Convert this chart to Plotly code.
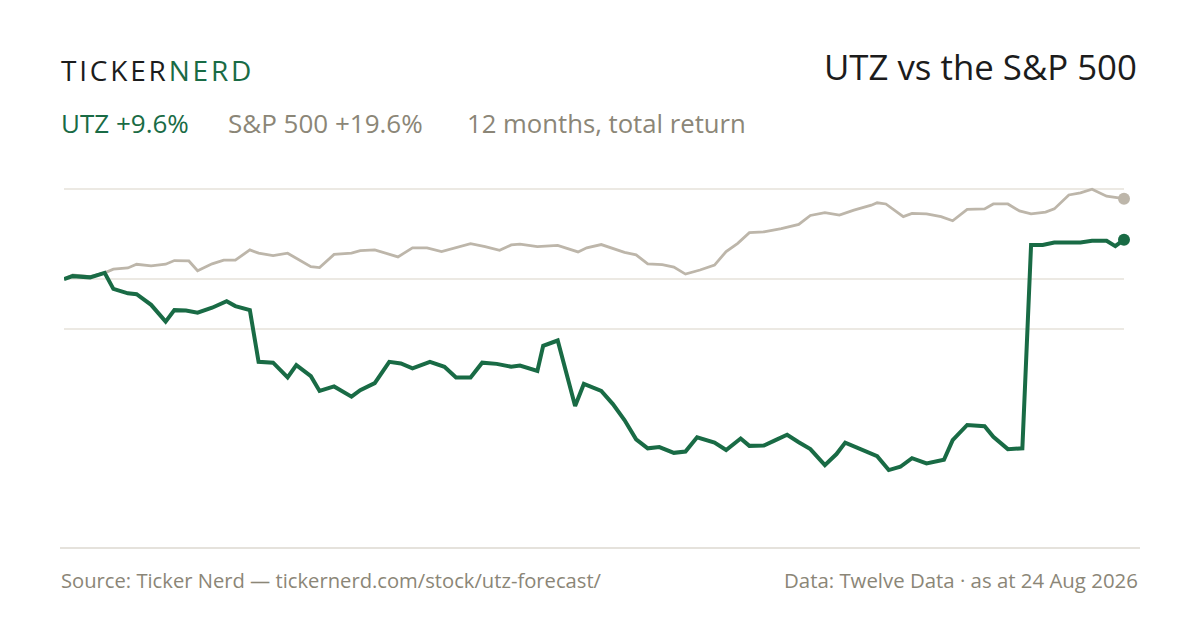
import plotly.graph_objects as go
import pandas as pd

START = "2025-08-24"

# UTZ total return, % (day offset from start, value)
utz_days = [0, 3, 9, 14, 17, 22, 25, 30, 35, 38, 42, 46, 51, 56, 59, 64, 67, 72, 77, 80,
            85, 88, 93, 99, 102, 107, 112, 116, 120, 126, 131, 135, 140, 144, 149, 154, 157,
            163, 165, 170, 176, 179, 185, 189, 193, 197, 201, 205, 210, 214, 218, 224, 228,
            233, 236, 241, 245, 249, 253, 257, 262, 266, 269, 280, 284, 288, 292, 297, 303,
            306, 311, 317, 320, 325, 330, 333, 337, 341, 350, 354, 359, 362, 365]
utz_vals = [0.0, 0.7, 0.4, 1.5, -2.4, -3.5, -3.7, -6.3, -10.4, -7.6, -7.7, -8.2, -7.0, -5.4,
            -6.6, -7.6, -20.2, -20.4, -24.0, -21.0, -23.7, -27.3, -26.2, -28.7, -27.1, -25.4,
            -20.2, -20.6, -21.8, -20.2, -21.4, -24.0, -24.0, -20.4, -20.7, -21.4, -21.1, -22.4,
            -16.3, -15.0, -31.0, -25.6, -27.3, -30.5, -34.4, -39.1, -41.3, -41.0, -42.4, -42.1,
            -38.6, -39.9, -41.7, -38.9, -40.7, -40.6, -39.3, -38.0, -39.8, -41.5, -45.4, -42.7,
            -39.9, -43.2, -46.6, -45.8, -43.7, -45.0, -44.1, -39.3, -35.6, -35.9, -38.5, -41.5,
            -41.3, 8.3, 8.3, 8.9, 8.9, 9.3, 9.3, 8.0, 9.6]

# S&P 500 total return, %
spx_days = [0, 3, 9, 14, 17, 22, 25, 30, 35, 38, 43, 46, 51, 55, 59, 64, 67, 72, 77, 81,
            85, 88, 93, 99, 102, 107, 115, 120, 125, 130, 135, 140, 145, 150, 154, 157, 163,
            170, 177, 180, 185, 189, 193, 197, 201, 206, 210, 214, 219, 224, 228, 232, 236,
            241, 247, 253, 257, 262, 267, 272, 278, 280, 283, 289, 292, 297, 302, 306, 311,
            317, 320, 325, 329, 333, 338, 341, 346, 350, 354, 359, 365]
spx_vals = [0.0, 1.0, 0.6, 1.5, 2.4, 2.7, 3.6, 3.2, 3.6, 4.5, 4.4, 2.0, 3.7, 4.6, 4.6, 7.1,
            6.3, 5.7, 6.3, 4.6, 3.0, 2.8, 6.0, 6.3, 6.9, 7.1, 5.4, 7.6, 7.6, 6.7, 7.7, 8.6,
            7.9, 7.0, 8.3, 8.5, 7.9, 8.2, 6.6, 7.6, 8.4, 7.5, 6.5, 5.9, 3.7, 3.5, 2.9, 1.2,
            2.2, 3.4, 6.7, 8.7, 11.3, 11.5, 12.3, 13.3, 15.5, 16.2, 15.6, 16.8, 18.0, 18.6,
            18.3, 15.2, 16.0, 15.9, 15.2, 14.2, 17.0, 17.1, 18.3, 18.3, 16.6, 15.9, 16.3,
            17.1, 20.5, 21.0, 21.9, 20.2, 19.6]

grid_vals = [21.95, 0, -12.2]

GREEN = "#196B45"
SPX = "#BDB6AA"
GREY = "#8B8677"
DARK = "#1C1C1C"
FONT = "Open Sans"

start = pd.Timestamp(START)
utz_x = [start + pd.Timedelta(days=d) for d in utz_days]
spx_x = [start + pd.Timedelta(days=d) for d in spx_days]

fig = go.Figure()
fig.add_trace(go.Scatter(x=spx_x, y=spx_vals, mode="lines", cliponaxis=False,
                         line=dict(color=SPX, width=2.8), hoverinfo="skip"))
fig.add_trace(go.Scatter(x=utz_x, y=utz_vals, mode="lines", cliponaxis=False,
                         line=dict(color=GREEN, width=4), hoverinfo="skip"))
fig.add_trace(go.Scatter(x=[spx_x[-1]], y=[spx_vals[-1]], mode="markers", cliponaxis=False,
                         marker=dict(color=SPX, size=12), hoverinfo="skip"))
fig.add_trace(go.Scatter(x=[utz_x[-1]], y=[utz_vals[-1]], mode="markers", cliponaxis=False,
                         marker=dict(color=GREEN, size=12), hoverinfo="skip"))

OFF = 8  # page body margin
# plot area in page pixels
L, R, T, B = 64, 1124, 170, 530
W, H = R - L, B - T
def px(x):
    return (x - L) / W
def py(y):
    return (B - y) / H

zero_y = 279
k = 4.1
fig.update_layout(
    width=1200, height=630,
    margin=dict(l=L - OFF, r=1200 - R + OFF, t=T - OFF, b=630 - B + OFF, pad=0),
    paper_bgcolor="white", plot_bgcolor="white",
    showlegend=False,
    font=dict(family=FONT, color=GREY),
    xaxis=dict(range=[utz_x[0], utz_x[-1]], showgrid=False, showticklabels=False,
               zeroline=False, showline=False, ticks="", fixedrange=True),
    yaxis=dict(range=[(zero_y - B) / k, (zero_y - T) / k], tickvals=grid_vals,
               showticklabels=False, showgrid=True, gridcolor="#ECE9E3", gridwidth=1.2,
               zeroline=False, showline=False, ticks="", fixedrange=True),
)

fig.add_shape(type="line", xref="paper", yref="paper",
              x0=px(60), x1=px(1140), y0=py(548), y1=py(548),
              line=dict(color="#DDD9D0", width=1.5))

ann = [
    dict(x=px(59), y=py(70), xanchor="left", yanchor="middle",
         text=f'<span style="letter-spacing:2.8px">TICKER</span><span style="letter-spacing:2.8px;color:{GREEN}">NERD</span>',
         font=dict(size=28, color=DARK, family=FONT)),
    dict(x=px(1139), y=py(67), xanchor="right", yanchor="middle",
         text="UTZ vs the S&P 500", font=dict(size=34.8, color=DARK, family=FONT)),
    dict(x=px(59), y=py(123), xanchor="left", yanchor="middle",
         text="UTZ +9.6%", font=dict(size=26, color=GREEN, family=FONT)),
    dict(x=px(226), y=py(123), xanchor="left", yanchor="middle",
         text="S&P 500 +19.6%", font=dict(size=26, color=GREY, family=FONT)),
    dict(x=px(465), y=py(123), xanchor="left", yanchor="middle",
         text="12 months, total return", font=dict(size=25.7, color=GREY, family=FONT)),
    dict(x=px(59), y=py(580), xanchor="left", yanchor="middle",
         text="Source: Ticker Nerd — tickernerd.com/stock/utz-forecast/",
         font=dict(size=20.2, color=GREY, family=FONT)),
    dict(x=px(1140), y=py(580), xanchor="right", yanchor="middle",
         text="Data: Twelve Data · as at 24 Aug 2026",
         font=dict(size=20.4, color=GREY, family=FONT)),
]
for a in ann:
    fig.add_annotation(xref="paper", yref="paper", showarrow=False, **a)

fig.write_html("out.html", config=dict(displayModeBar=False, staticPlot=True))
